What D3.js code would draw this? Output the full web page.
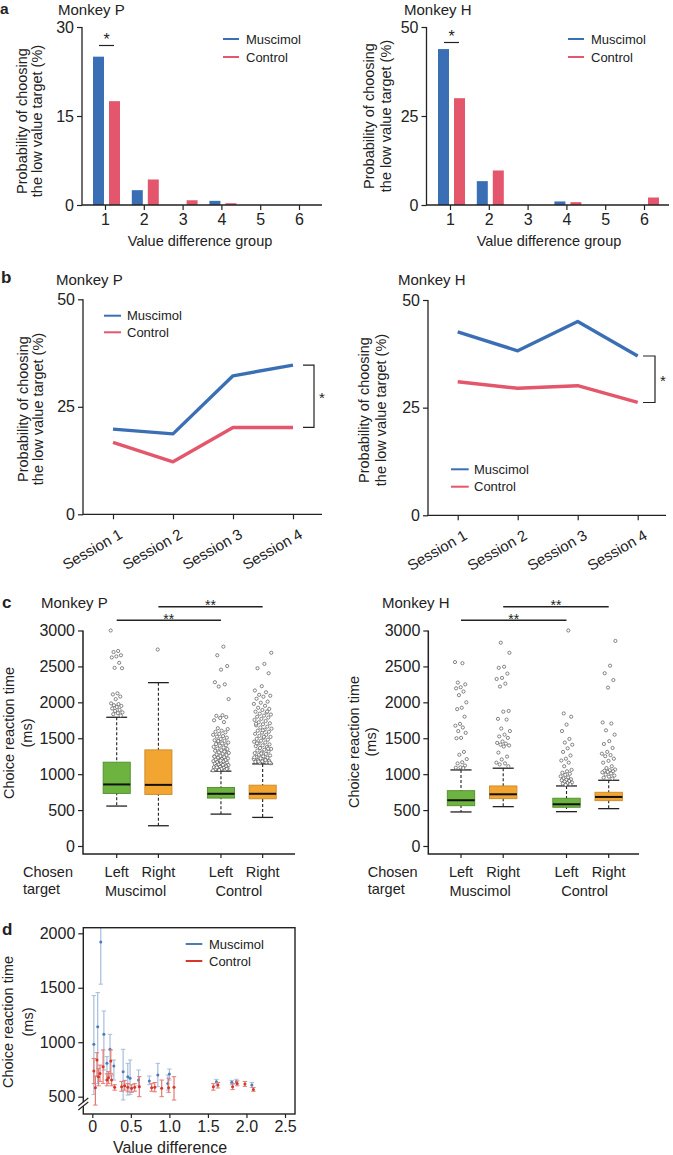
<!DOCTYPE html>
<html><head><meta charset="utf-8">
<script src="https://cdn.jsdelivr.net/npm/d3@7"></script>
<style>
body{margin:0;background:#fff}
text{font-family:"Liberation Sans",Arial,Helvetica,sans-serif;fill:#222}
</style>
</head><body>
<svg id="fig" width="673" height="1155"></svg>
<script>
// ===================== DATA =====================
// Panel a
const groupsA = ["1","2","3","4","5","6"];
const conditions = ["Muscimol","Control"];
const aTicksP = [0,15,30];
const aTicksH = [0,25,50];
const aP_muscimol = [25.0, 2.5, 0, 0.7, 0, 0];
const aP_control  = [17.5, 4.3, 0.8, 0.3, 0, 0];
const aH_muscimol = [43.8, 6.7, 0, 1.0, 0, 0];
const aH_control  = [30.0, 9.7, 0, 0.8, 0, 2.1];

// Panel b
const sessions = ["Session 1","Session 2","Session 3","Session 4"];
const bTicks = [0,25,50];
const bP_muscimol = [19.8, 18.7, 32.2, 34.7];
const bP_control  = [16.7, 12.2, 20.2, 20.2];
const bH_muscimol = [42.6, 38.2, 45.0, 37.0];
const bH_control  = [31.0, 29.5, 30.1, 26.2];

// Panel c (box plots: Muscimol Left, Muscimol Right, Control Left, Control Right)
const boxLabels = ["Left","Right","Left","Right"];
const cTicks = [0,500,1000,1500,2000,2500,3000];
const cP_low    = [556, 282, 444, 398];
const cP_q1     = [732, 718, 667, 657];
const cP_median = [857, 851, 727, 727];
const cP_q3     = [1167, 1338, 815, 847];
const cP_high   = [1792, 2274, 1042, 1143];
const cH_low    = [474, 548, 478, 520];
const cH_q1     = [561, 659, 539, 631];
const cH_median = [637, 720, 581, 683];
const cH_q3     = [770, 836, 665, 748];
const cH_high   = [1059, 1083, 836, 915];

const cP_out_musL = [3000,2715,2700,2655,2640,2625,2550,2480,2475,2125,2110,2080,2045,1985,1975,1960,1950,1935,1915,1895,1880,1860,1850,1835,1815];
const cP_out_musR = [2735];
const cP_out_conL = [2775,2655,2505,2455,2280,2250,2220,2045,1820,1812,1795,1782,1750,1725,1640,1628,1605,1590,1582,1560,1548,1530,1522,1508,1490,1472,1463,1451,1440,1428,1419,1402,1396,1380,1371,1356,1349,1333,1325,1318,1303,1296,1284,1271,1266,1252,1247,1236,1229,1218,1211,1204,1197,1188,1181,1176,1167,1160,1153,1146,1139,1134,1127,1121,1115,1108,1102,1097,1091,1086,1080,1074,1069,1063,1058,1052,1130,1095,1072,1189,1243,1315,1462];
const cP_out_conR = [2690,2535,2475,2405,2225,2165,2140,2105,2092,2078,2050,2010,1995,1978,1952,1925,1908,1893,1870,1858,1842,1830,1815,1800,1788,1770,1755,1740,1722,1708,1695,1680,1662,1650,1633,1618,1605,1590,1578,1562,1548,1533,1519,1505,1492,1480,1466,1452,1440,1428,1415,1402,1390,1377,1365,1352,1340,1329,1316,1305,1293,1282,1270,1260,1249,1238,1228,1219,1210,1202,1194,1186,1179,1172,1165,1158,1152,1520,1430,1355,1288,1235,1196,1176,1162,1610,1702,1872];
const cH_out_musL = [2560,2545,2275,2250,2210,2195,2150,2100,2000,1925,1905,1800,1700,1675,1650,1600,1575,1505,1500,1310,1270,1210,1165,1150,1120,1095,1090,1085];
const cH_out_musR = [2830,2690,2495,2480,2400,2340,2325,2260,2220,1880,1870,1770,1760,1635,1600,1550,1525,1505,1455,1435,1425,1410,1400,1385,1300,1245,1205,1160,1150,1135,1110];
const cH_out_conL = [3000,1845,1800,1690,1600,1490,1440,1410,1360,1310,1260,1215,1190,1160,1110,1060,1040,1020,1005,990,970,955,940,930,922,915,905,895,885,875,868,860,852];
const cH_out_conR = [2855,2510,2405,2310,2205,1720,1705,1610,1550,1460,1420,1365,1310,1285,1265,1250,1215,1185,1160,1110,1085,1065,1055,1048,1040,1032,1025,1010,995,980,965,950,938];

// Panel d
const dTicksY = [500,1000,1500,2000];
const dTicksX = [0,0.5,1.0,1.5,2.0,2.5];
const d_mus_x  = [0.02,0.07,0.11,0.15,0.19,0.23,0.28,0.40,0.46,0.49,0.60,0.74,0.85,0.98,1.00,1.61,1.81,1.87,2.07];
const d_mus_y  = [981,1143,1919,1073,806,935,782,730,684,669,653,644,699,622,708,638,632,638,607];
const d_mus_lo = [520,622,1533,745,653,684,653,470,515,520,600,610,592,560,653,600,610,615,585];
const d_mus_hi = [1428,1456,2320,1287,868,1073,837,935,806,837,745,690,806,700,754,659,650,660,630];
const d_con_x  = [0.02,0.04,0.06,0.08,0.10,0.14,0.19,0.21,0.24,0.25,0.29,0.38,0.42,0.46,0.51,0.55,0.61,0.77,0.81,0.90,0.99,1.06,1.57,1.63,1.82,1.88,1.98,2.09];
const d_con_y  = [736,583,837,684,714,776,653,675,828,653,586,592,601,586,577,586,592,583,586,577,583,586,592,607,592,622,616,567];
const d_con_lo = [620,423,684,600,640,622,600,620,714,600,560,550,560,545,540,550,500,550,545,500,540,469,560,580,565,600,595,550];
const d_con_hi = [850,690,904,760,790,929,710,730,929,700,610,640,650,620,610,620,684,620,630,653,669,684,620,630,620,645,640,585];

// ===================== STYLE =====================
const BLUE = "#3a6fb6", RED = "#e3566b";
const GREEN = "#6db33f", GREEN_S = "#4f8d2c", ORANGE = "#f3a532", ORANGE_S = "#c98a2c";
const D_BLUE = "#4a7cb8", D_BLUE_L = "#a6bddc", D_RED = "#d6362c", D_RED_L = "#e57a72";
const INK = "#222";
const TICK = 16;

const svg = d3.select("#fig");

function styleAxis(g, fs){
  g.attr("font-family", null).attr("font-size", null);
  g.selectAll("text").attr("font-size", fs).attr("fill", INK);
  g.selectAll(".tick line").attr("stroke", INK).attr("stroke-width", 1.2);
  g.select(".domain").remove();
}
function text(x, y, s, fs, opts={}){
  const t = svg.append("text").attr("x", x).attr("y", y).attr("font-size", fs).text(s);
  if (opts.anchor) t.attr("text-anchor", opts.anchor);
  if (opts.weight) t.attr("font-weight", opts.weight);
  if (opts.dy) t.attr("dy", opts.dy);
  if (opts.fill) t.attr("fill", opts.fill);
  return t;
}
function vlabel(lines, xs, cy, fs){
  lines.forEach((s,i)=> svg.append("text")
    .attr("transform", `translate(${xs[i]},${cy}) rotate(-90)`)
    .attr("text-anchor","middle").attr("dy","0.35em").attr("font-size", fs).text(s));
}
function legend(x1, x2, tx, ys, cols, fs){
  conditions.forEach((c,i)=>{
    svg.append("line").attr("x1",x1).attr("x2",x2).attr("y1",ys[i]).attr("y2",ys[i])
      .attr("stroke",cols[i]).attr("stroke-width",2);
    text(tx, ys[i], c, fs, {dy:"0.35em"});
  });
}

// ===================== PANEL A =====================
function barPanel(o){
  const x = d3.scalePoint().domain(groupsA).range(o.xr);
  const y = d3.scaleLinear().domain([0, o.max]).range(o.yr);
  const sub = d3.scaleBand().domain(conditions).range([-12, 15]).paddingInner(0.3125);
  const g = svg.append("g");
  [[o.mus, "Muscimol", BLUE], [o.con, "Control", RED]].forEach(([vals, key, col])=>{
    g.append("g").selectAll("rect").data(vals).join("rect")
      .attr("x", (d,i)=> x(groupsA[i]) + sub(key))
      .attr("width", sub.bandwidth())
      .attr("y", d=> y(d)).attr("height", d=> y(0) - y(d))
      .attr("fill", col);
  });
  const ya = g.append("g").attr("transform", `translate(${o.ax},0)`)
    .call(d3.axisLeft(y).tickValues(o.ticks).tickSize(5).tickPadding(3));
  styleAxis(ya, TICK);
  const xa = g.append("g").attr("transform", `translate(0,${o.yr[0]})`)
    .call(d3.axisBottom(x).tickSize(5).tickPadding(4));
  styleAxis(xa, TICK);
  g.append("path").attr("d", `M${o.ax},${y(o.max)}V${o.yr[0]}H${o.xEnd}`)
    .attr("fill","none").attr("stroke", INK).attr("stroke-width", 1.3);
  const c1 = x(groupsA[0]);
  g.append("line").attr("x1", c1 - 6).attr("x2", c1 + 9).attr("y1", o.sigY).attr("y2", o.sigY)
    .attr("stroke", INK).attr("stroke-width", 1.2);
  text(c1 + 1.5, o.sigY - 0.5, "*", 16, {anchor:"middle"});
}
barPanel({xr:[105,299], yr:[205,27], ax:82, xEnd:322, max:30, ticks:aTicksP, mus:aP_muscimol, con:aP_control, sigY:45.5});
barPanel({xr:[450,644], yr:[205,27], ax:426.5, xEnd:669, max:50, ticks:aTicksH, mus:aH_muscimol, con:aH_control, sigY:42.5});

text(0, 14, "a", 15.5, {weight:"bold"});
text(58, 15, "Monkey P", 15);
text(404, 15, "Monkey H", 15);
vlabel(["Probability of choosing","the low value target (%)"], [22,37], 121, 14.5);
vlabel(["Probability of choosing","the low value target (%)"], [369,386], 116, 14.5);
text(200, 246, "Value difference group", 14.5, {anchor:"middle"});
text(549, 246, "Value difference group", 14.5, {anchor:"middle"});
legend(223, 239, 246, [39,57], [BLUE,RED], 13);
legend(568, 584, 591, [39,57], [BLUE,RED], 13);

// ===================== PANEL B =====================
function linePanel(o){
  const x = d3.scalePoint().domain(sessions).range(o.xr);
  const y = d3.scaleLinear().domain([0,50]).range(o.yr);
  const g = svg.append("g");
  const line = d3.line().x((d,i)=> x(sessions[i])).y(d=> y(d));
  [[o.mus, BLUE],[o.con, RED]].forEach(([vals,col])=>{
    g.append("path").datum(vals).attr("d", line).attr("fill","none")
      .attr("stroke", col).attr("stroke-width", 3.4).attr("stroke-linejoin","round");
  });
  const ya = g.append("g").attr("transform", `translate(${o.ax},0)`)
    .call(d3.axisLeft(y).tickValues(bTicks).tickSize(5).tickPadding(3));
  styleAxis(ya, TICK);
  const xa = g.append("g").attr("transform", `translate(0,${o.yr[0]})`)
    .call(d3.axisBottom(x).tickSize(5));
  styleAxis(xa, 15);
  xa.selectAll(".tick text").attr("y", 0).attr("dy", 0)
    .attr("text-anchor","end").attr("transform","translate(10,23) rotate(-30)");
  g.append("path").attr("d", `M${o.ax},${y(50)}V${o.yr[0]}H${o.xEnd}`)
    .attr("fill","none").attr("stroke", INK).attr("stroke-width", 1.3);
  const yt = y(o.mus[3]), yb = y(o.con[3]);
  g.append("path").attr("d", `M${o.bx0},${yt}H${o.bx1}V${yb}H${o.bx0}`)
    .attr("fill","none").attr("stroke", INK).attr("stroke-width", 1.2);
  text(o.bx1 + 8, (yt+yb)/2 + 7, "*", 15, {anchor:"middle"});
}
linePanel({xr:[113,293], yr:[514.3,299.3], ax:83, xEnd:322, mus:bP_muscimol, con:bP_control, bx0:303, bx1:314});
linePanel({xr:[457.7,637.7], yr:[515.3,300], ax:428, xEnd:666, mus:bH_muscimol, con:bH_control, bx0:643, bx1:655});

text(1, 283, "b", 17, {weight:"bold"});
text(56, 285, "Monkey P", 15);
text(398, 285, "Monkey H", 15);
vlabel(["Probability of choosing","the low value target (%)"], [23,38], 409, 14.5);
vlabel(["Probability of choosing","the low value target (%)"], [364,381], 410, 14.5);
legend(104, 121, 127, [315.7,332.3], [BLUE,RED], 13);
legend(451, 468.7, 474, [469.3,486.7], [BLUE,RED], 13);

// ===================== PANEL C =====================
const jit = i => (((i * 0.6180339887) % 1) - 0.5) * 2;
function boxPanel(o){
  const y = d3.scaleLinear().domain([0,3000]).range([846, 630.5]);
  const slots = [1, 2, 3.5, 4.5];
  const x = d3.scaleLinear().domain([1,2]).range([o.c1, o.c2]);
  const step = o.c2 - o.c1;
  const bw = step * 0.65, cw = step * 0.5;
  const fills = [GREEN, ORANGE, GREEN, ORANGE], strokes = [GREEN_S, ORANGE_S, GREEN_S, ORANGE_S];
  const g = svg.append("g");
  const idx = [0,1,2,3];
  g.selectAll("line.wh").data(idx).join("line").attr("class","wh")
    .attr("x1", i=> x(slots[i])).attr("x2", i=> x(slots[i]))
    .attr("y1", i=> y(o.high[i])).attr("y2", i=> y(o.low[i]))
    .attr("stroke", INK).attr("stroke-width", 1.1).attr("stroke-dasharray","3,2");
  ["high","low"].forEach(k=>{
    g.selectAll(null).data(idx).join("line")
      .attr("x1", i=> x(slots[i]) - cw/2).attr("x2", i=> x(slots[i]) + cw/2)
      .attr("y1", i=> y(o[k][i])).attr("y2", i=> y(o[k][i]))
      .attr("stroke", INK).attr("stroke-width", 1.3);
  });
  g.selectAll("rect").data(idx).join("rect")
    .attr("x", i=> x(slots[i]) - bw/2).attr("width", bw)
    .attr("y", i=> y(o.q3[i])).attr("height", i=> y(o.q1[i]) - y(o.q3[i]))
    .attr("fill", i=> fills[i]).attr("stroke", i=> strokes[i]).attr("stroke-width", 0.9);
  g.selectAll("line.med").data(idx).join("line").attr("class","med")
    .attr("x1", i=> x(slots[i]) - bw/2).attr("x2", i=> x(slots[i]) + bw/2)
    .attr("y1", i=> y(o.median[i])).attr("y2", i=> y(o.median[i]))
    .attr("stroke", "#111").attr("stroke-width", 2);
  o.outs.forEach((arr, b)=>{
    g.append("g").selectAll("circle").data(arr).join("circle")
      .attr("cx", (d,i)=> x(slots[b]) + jit(i + b*7) * o.spread[b])
      .attr("cy", d=> y(d)).attr("r", 1.6)
      .attr("fill","#fff").attr("stroke","#555").attr("stroke-width", 0.7);
  });
  const ya = g.append("g").attr("transform", `translate(${o.ax},0)`)
    .call(d3.axisLeft(y).tickValues(cTicks).tickSize(5).tickPadding(3).tickFormat(d3.format("d")));
  styleAxis(ya, TICK);
  g.append("path").attr("d", `M${o.ax},${y(3000)}V854H${o.xEnd}`)
    .attr("fill","none").attr("stroke", INK).attr("stroke-width", 1.5);
  g.selectAll("line.xt").data(idx).join("line").attr("class","xt")
    .attr("x1", i=> x(slots[i])).attr("x2", i=> x(slots[i])).attr("y1", 854).attr("y2", 858)
    .attr("stroke", INK).attr("stroke-width", 1.2);
  idx.forEach(i=> text(x(slots[i]), 877, boxLabels[i], 14.5, {anchor:"middle"}));
  text(o.chosenX, 877, "Chosen", 14.5);
  text(o.chosenX, 894, "target", 14.5);
  text((x(slots[0]) + x(slots[1]))/2 - 2, 896, conditions[0], 14.5, {anchor:"middle"});
  text((x(slots[2]) + x(slots[3]))/2 - 3, 896, conditions[1], 14.5, {anchor:"middle"});
  [[0,2,620.3],[1,3,606.7]].forEach(([a,b,yy])=>{
    g.append("line").attr("x1", x(slots[a])).attr("x2", x(slots[b])).attr("y1", yy).attr("y2", yy)
      .attr("stroke", INK).attr("stroke-width", 1.4);
    text((x(slots[a]) + x(slots[b]))/2, yy + 3.5, "**", 14, {anchor:"middle"});
  });
}
boxPanel({c1:116.7, c2:158.4, ax:83, xEnd:295, chosenX:23,
  low:cP_low, q1:cP_q1, median:cP_median, q3:cP_q3, high:cP_high,
  outs:[cP_out_musL, cP_out_musR, cP_out_conL, cP_out_conR], spread:[6,2,8,9]});
boxPanel({c1:461, c2:503.2, ax:428.3, xEnd:639, chosenX:367.7,
  low:cH_low, q1:cH_q1, median:cH_median, q3:cH_q3, high:cH_high,
  outs:[cH_out_musL, cH_out_musR, cH_out_conL, cH_out_conR], spread:[6,7,6,7]});

text(2, 608, "c", 17, {weight:"bold"});
text(41, 608, "Monkey P", 15);
text(382, 608, "Monkey H", 15);
vlabel(["Choice reaction time","(ms)"], [9,27], 733, 14.5);
vlabel(["Choice reaction time","(ms)"], [353.5,371], 742, 14.5);

// ===================== PANEL D =====================
(function(){
  const fx0 = 83.3, fx1 = 295, fy0 = 927.7, fy1 = 1114;
  const x = d3.scaleLinear().domain([0,2.5]).range([92.3,285]);
  const y = d3.scaleLinear().domain([500,2000]).range([1096.7,933.3]);
  const g = svg.append("g");
  svg.append("clipPath").attr("id","dclip").append("rect")
    .attr("x",fx0).attr("y",fy0).attr("width",fx1-fx0).attr("height",fy1-fy0);
  const pg = g.append("g").attr("clip-path","url(#dclip)");
  function series(xs, ys, lo, hi, col, colL){
    const idx = xs.map((d,i)=>i);
    pg.append("g").selectAll("line").data(idx).join("line")
      .attr("x1", i=> x(xs[i])).attr("x2", i=> x(xs[i]))
      .attr("y1", i=> y(hi[i])).attr("y2", i=> y(lo[i]))
      .attr("stroke", colL).attr("stroke-width", 1.2);
    ["hi","lo"].forEach(k=>{
      const arr = k==="hi"? hi: lo;
      pg.append("g").selectAll("line").data(idx).join("line")
        .attr("x1", i=> x(xs[i]) - 2.2).attr("x2", i=> x(xs[i]) + 2.2)
        .attr("y1", i=> y(arr[i])).attr("y2", i=> y(arr[i]))
        .attr("stroke", colL).attr("stroke-width", 1);
    });
    pg.append("g").selectAll("circle").data(idx).join("circle")
      .attr("cx", i=> x(xs[i])).attr("cy", i=> y(ys[i])).attr("r", 1.5).attr("fill", col);
  }
  series(d_mus_x, d_mus_y, d_mus_lo, d_mus_hi, D_BLUE, D_BLUE_L);
  series(d_con_x, d_con_y, d_con_lo, d_con_hi, D_RED, D_RED_L);
  g.append("rect").attr("x",fx0).attr("y",fy0).attr("width",fx1-fx0).attr("height",fy1-fy0)
    .attr("fill","none").attr("stroke",INK).attr("stroke-width",1.4);
  const ya = g.append("g").attr("transform",`translate(${fx0},0)`)
    .call(d3.axisLeft(y).tickValues(dTicksY).tickSize(5).tickPadding(3).tickFormat(d3.format("d")));
  styleAxis(ya, TICK);
  const xa = g.append("g").attr("transform",`translate(0,${fy1})`)
    .call(d3.axisBottom(x).tickValues(dTicksX).tickSize(4).tickPadding(3)
      .tickFormat(d=> d===0 ? "0" : d.toFixed(1)));
  styleAxis(xa, 16);
  g.append("polygon").attr("points",`${fx0-4},1105.5 ${fx0+4},1099 ${fx0+4},1103 ${fx0-4},1109.5`).attr("fill","#fff");
  [0,4].forEach(o=> g.append("line").attr("x1",fx0-5).attr("y1",1106+o).attr("x2",fx0+5).attr("y2",1098+o)
    .attr("stroke",INK).attr("stroke-width",1.1));
})();
text(2, 935, "d", 17, {weight:"bold"});
vlabel(["Choice reaction time","(ms)"], [8,27.5], 1022, 14.5);
text(170, 1153, "Value difference", 16, {anchor:"middle"});
conditions.forEach((c,i)=>{
  const yy = [944, 961][i];
  svg.append("line").attr("x1",185.7).attr("x2",202.3).attr("y1",yy).attr("y2",yy)
    .attr("stroke",[D_BLUE,D_RED][i]).attr("stroke-width",2);
  text(209, yy, c, 13, {dy:"0.35em"});
});
</script>
</body></html>
